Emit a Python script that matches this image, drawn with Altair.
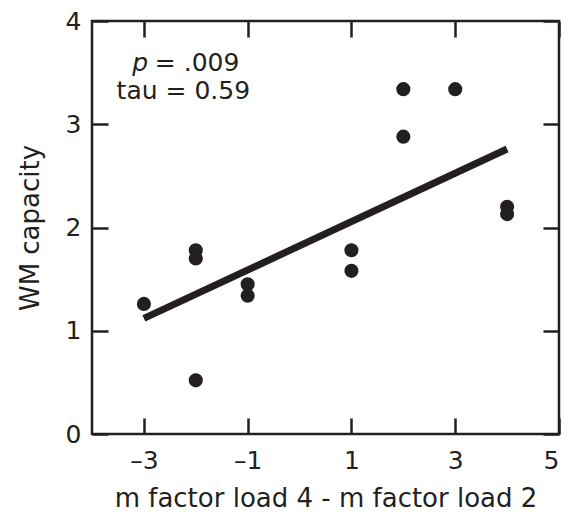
import altair as alt
import pandas as pd

# Data
x_vals = [-3, -2, -2, -2, -1, -1, 1, 1, 2, 2, 3, 4, 4]
wm_vals = [1.26, 1.78, 1.70, 0.52, 1.45, 1.34, 1.78, 1.58, 3.34, 2.88, 3.34, 2.20, 2.13]

fit_x = [-3, 4]
fit_y = [1.12, 2.76]

x_ticks = [-3, -1, 1, 3, 5]
y_ticks = [0, 1, 2, 3, 4]
x_domain = [-4, 5]
y_domain = [0, 4]

stat_p_label = ["p"]
stat_p_x = [-2.92]
stat_p_y = [3.59]
stat_rest_label = ["= .009"]
stat_rest_x = [-2.79]
stat_rest_y = [3.59]
stat_tau_label = ["tau = 0.59"]
stat_tau_x = [-2.24]
stat_tau_y = [3.32]

W, H = 467, 413
FONT = "DejaVu Sans"
INK = "#231f20"

pts = pd.DataFrame({"x": x_vals, "y": wm_vals})
fit = pd.DataFrame({"x": fit_x, "y": fit_y})
p_df = pd.DataFrame({"x": stat_p_x, "y": stat_p_y, "t": stat_p_label})
rest_df = pd.DataFrame({"x": stat_rest_x, "y": stat_rest_y, "t": stat_rest_label})
tau_df = pd.DataFrame({"x": stat_tau_x, "y": stat_tau_y, "t": stat_tau_label})

xs = alt.Scale(domain=x_domain, nice=False, zero=False)
ys = alt.Scale(domain=y_domain, nice=False, zero=False)

main_x_axis = alt.Axis(values=x_ticks, ticks=False, tickSize=0, labelPadding=14,
                       title="m factor load 4 - m factor load 2", titlePadding=12,
                       domain=False, grid=False, labelExpr="replace(datum.label, '−', '–')")
main_y_axis = alt.Axis(values=y_ticks, ticks=False, tickSize=0, labelPadding=11,
                       title="WM capacity", titlePadding=22, domain=False, grid=False)

points = alt.Chart(pts).mark_circle(size=200, color=INK, opacity=1).encode(
    x=alt.X("x:Q", scale=xs, axis=main_x_axis),
    y=alt.Y("y:Q", scale=ys, axis=main_y_axis),
)

# inward ticks at bottom and left (axes flipped and shifted inward)
tick_axis_common = dict(labels=False, domain=False, grid=False, title=None,
                        tickSize=16, tickWidth=2.5, tickColor=INK)
line = alt.Chart(fit).mark_line(color=INK, strokeWidth=7).encode(
    x=alt.X("x:Q", scale=xs, axis=alt.Axis(values=x_ticks, orient="top", offset=-H, **tick_axis_common)),
    y=alt.Y("y:Q", scale=ys, axis=alt.Axis(values=y_ticks, orient="right", offset=-W, **tick_axis_common)),
)

# inward ticks at top and right
p_text = alt.Chart(p_df).mark_text(font=FONT, fontSize=25, fontStyle="italic", align="right",
                                   baseline="middle", color=INK).encode(
    x=alt.X("x:Q", scale=xs, axis=alt.Axis(values=x_ticks, orient="bottom", offset=-H, **tick_axis_common)),
    y=alt.Y("y:Q", scale=ys, axis=alt.Axis(values=y_ticks, orient="left", offset=-W, **tick_axis_common)),
    text="t:N",
)
rest_text = alt.Chart(rest_df).mark_text(font=FONT, fontSize=25, align="left",
                                         baseline="middle", color=INK).encode(
    x=alt.X("x:Q", scale=xs, axis=None),
    y=alt.Y("y:Q", scale=ys, axis=None),
    text="t:N",
)
tau_text = alt.Chart(tau_df).mark_text(font=FONT, fontSize=25, align="center",
                                       baseline="middle", color=INK).encode(
    x=alt.X("x:Q", scale=xs, axis=None),
    y=alt.Y("y:Q", scale=ys, axis=None),
    text="t:N",
)

chart = alt.layer(points, line, p_text, rest_text, tau_text).resolve_scale(
    x="independent", y="independent"
).properties(
    width=W, height=H,
    autosize=alt.AutoSizeParams(type="none"),
    padding={"left": 84, "top": 13, "right": 8, "bottom": 77},
).configure_view(
    stroke=INK, strokeWidth=2.5
).configure_axis(
    labelFont=FONT, titleFont=FONT, labelFontSize=25, titleFontSize=26,
    labelColor=INK, titleColor=INK, titleFontWeight="normal",
)

chart.save("out.html", embed_options={"renderer": "svg", "actions": False})
